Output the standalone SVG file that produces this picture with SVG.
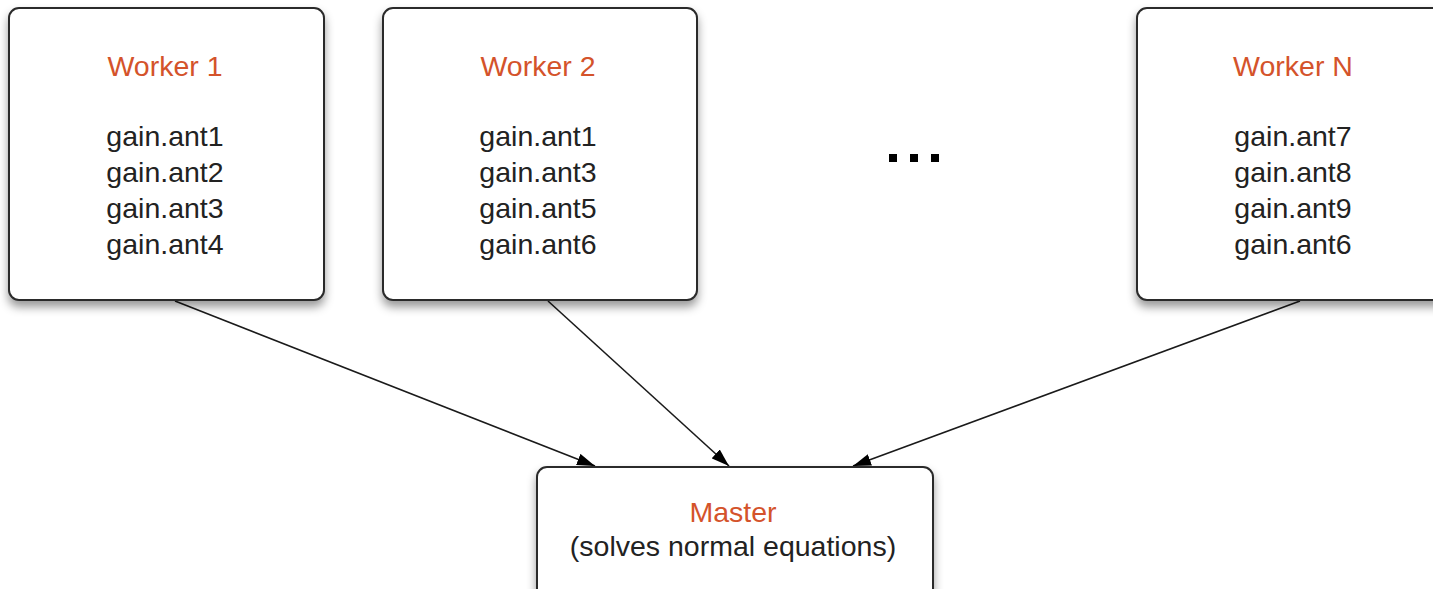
<svg xmlns="http://www.w3.org/2000/svg" width="1433" height="589" viewBox="0 0 1433 589">
  <style>
    .box { fill: #ffffff; stroke: #2b2b2b; stroke-width: 2; filter: url(#shadow); }
    .title { font-family: "Liberation Sans", Arial, sans-serif; font-size: 28.5px; fill: #d4532b; text-anchor: middle; }
    .item { font-family: "Liberation Sans", Arial, sans-serif; font-size: 28.5px; fill: #222222; text-anchor: middle; }
    .edge { stroke: #1a1a1a; stroke-width: 1.6; fill: none; marker-end: url(#arrow); }
  </style>
  <defs>
    <filter id="shadow" x="-10%" y="-10%" width="120%" height="135%">
      <feDropShadow dx="0" dy="6" stdDeviation="5" flood-color="#000000" flood-opacity="0.4"/>
    </filter>
    <marker id="arrow" viewBox="0 0 18 12" refX="18" refY="6" markerWidth="18" markerHeight="12" markerUnits="userSpaceOnUse" orient="auto">
      <path d="M0,0 L18,6 L0,12 z" fill="#000000"/>
    </marker>
  </defs>

  <g id="connectors">
    <line class="edge" x1="175" y1="301" x2="595" y2="466"/>
    <line class="edge" x1="548" y1="301" x2="729" y2="466"/>
    <line class="edge" x1="1300" y1="301" x2="853" y2="466"/>
  </g>

  <g id="worker1">
    <rect class="box" x="9" y="8" width="315" height="292" rx="10"/>
    <text class="title" x="165" y="76">Worker 1</text>
    <text class="item" x="165" y="146">gain.ant1</text>
    <text class="item" x="165" y="182">gain.ant2</text>
    <text class="item" x="165" y="218">gain.ant3</text>
    <text class="item" x="165" y="254">gain.ant4</text>
  </g>

  <g id="worker2">
    <rect class="box" x="383" y="8" width="314" height="292" rx="10"/>
    <text class="title" x="538" y="76">Worker 2</text>
    <text class="item" x="538" y="146">gain.ant1</text>
    <text class="item" x="538" y="182">gain.ant3</text>
    <text class="item" x="538" y="218">gain.ant5</text>
    <text class="item" x="538" y="254">gain.ant6</text>
  </g>

  <g id="ellipsis">
    <rect x="889" y="154" width="8" height="8" fill="#000000"/>
    <rect x="910" y="154" width="8" height="8" fill="#000000"/>
    <rect x="931" y="154" width="8" height="8" fill="#000000"/>
  </g>

  <g id="workerN">
    <rect class="box" x="1137" y="8" width="315" height="292" rx="10"/>
    <text class="title" x="1293" y="76">Worker N</text>
    <text class="item" x="1293" y="146">gain.ant7</text>
    <text class="item" x="1293" y="182">gain.ant8</text>
    <text class="item" x="1293" y="218">gain.ant9</text>
    <text class="item" x="1293" y="254">gain.ant6</text>
  </g>

  <g id="master">
    <rect class="box" x="537" y="467" width="396" height="150" rx="10"/>
    <text class="title" x="733" y="522">Master</text>
    <text class="item" x="733" y="556">(solves normal equations)</text>
  </g>
</svg>
